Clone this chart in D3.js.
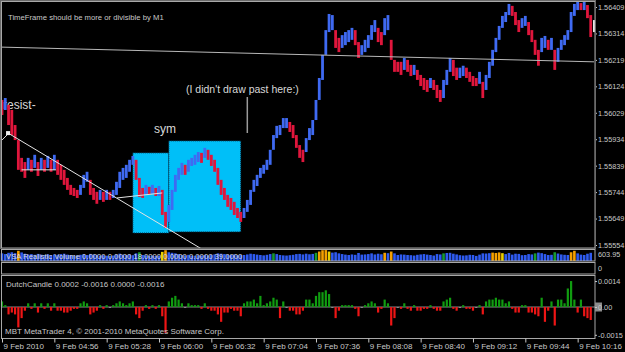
<!DOCTYPE html>
<html>
<head>
<meta charset="utf-8">
<script src="https://cdn.jsdelivr.net/npm/d3@7"></script>
<style>
body { margin: 0; background: #000; }
svg { display: block; }
</style>
</head>
<body>
<div id="chart"></div>
<script>
// M2 bars from 9 Feb 2010 04:24
const start = new Date(2010, 1, 9, 4, 24);
const barMinutes = 2;

const highs = [
  1.56075, 1.56082, 1.56057, 1.56039, 1.55985, 1.55931, 1.55867, 1.55852, 1.55867, 1.55860,
  1.55878, 1.55852, 1.55867, 1.55860, 1.55874, 1.55860, 1.55878, 1.55860, 1.55842, 1.55824,
  1.55795, 1.55770, 1.55759, 1.55752, 1.55770, 1.55806, 1.55817, 1.55788, 1.55759, 1.55745,
  1.55752, 1.55745, 1.55752, 1.55745, 1.55752, 1.55781, 1.55817, 1.55831, 1.55842, 1.55860,
  1.55874, 1.55860, 1.55795, 1.55759, 1.55770, 1.55763, 1.55770, 1.55759, 1.55766, 1.55752,
  1.55673, 1.55698, 1.55752, 1.55806, 1.55831, 1.55849, 1.55842, 1.55860, 1.55867, 1.55878,
  1.55888, 1.55885, 1.55903, 1.55896, 1.55878, 1.55860, 1.55831, 1.55788, 1.55759, 1.55734,
  1.55723, 1.55709, 1.55687, 1.55673, 1.55687, 1.55716, 1.55752, 1.55788, 1.55806, 1.55831,
  1.55842, 1.55860, 1.55896, 1.55949, 1.55982, 1.55985, 1.56010, 1.56010, 1.55996, 1.55985,
  1.55949, 1.55913, 1.55896, 1.55938, 1.55974, 1.56003, 1.56075, 1.56154, 1.56237, 1.56326,
  1.56384, 1.56380, 1.56326, 1.56298, 1.56308, 1.56319, 1.56326, 1.56334, 1.56326, 1.56283,
  1.56272, 1.56291, 1.56308, 1.56344, 1.56362, 1.56334, 1.56319, 1.56369, 1.56380, 1.56291,
  1.56219, 1.56212, 1.56212, 1.56226, 1.56219, 1.56201, 1.56201, 1.56183, 1.56165, 1.56154,
  1.56147, 1.56154, 1.56147, 1.56129, 1.56111, 1.56147, 1.56183, 1.56226, 1.56219, 1.56191,
  1.56191, 1.56198, 1.56191, 1.56176, 1.56161, 1.56154, 1.56176, 1.56140, 1.56165, 1.56212,
  1.56255, 1.56298, 1.56341, 1.56377, 1.56391, 1.56420, 1.56413, 1.56391, 1.56362, 1.56369,
  1.56377, 1.56355, 1.56326, 1.56291, 1.56255, 1.56298, 1.56305, 1.56291, 1.56298, 1.56255,
  1.56262, 1.56291, 1.56308, 1.56326, 1.56391, 1.56420, 1.56427, 1.56423, 1.56427, 1.56416,
  1.56380
];
const lows = [
  1.56021, 1.56039, 1.55985, 1.55949, 1.55931, 1.55824, 1.55817, 1.55795, 1.55824, 1.55817,
  1.55831, 1.55802, 1.55824, 1.55817, 1.55831, 1.55817, 1.55824, 1.55806, 1.55788, 1.55770,
  1.55752, 1.55734, 1.55730, 1.55723, 1.55734, 1.55759, 1.55781, 1.55734, 1.55716, 1.55702,
  1.55716, 1.55709, 1.55716, 1.55716, 1.55723, 1.55734, 1.55759, 1.55788, 1.55795, 1.55817,
  1.55842, 1.55788, 1.55727, 1.55723, 1.55734, 1.55734, 1.55738, 1.55730, 1.55730, 1.55662,
  1.55615, 1.55637, 1.55680, 1.55745, 1.55788, 1.55806, 1.55806, 1.55817, 1.55838, 1.55842,
  1.55852, 1.55849, 1.55867, 1.55860, 1.55838, 1.55817, 1.55770, 1.55734, 1.55716, 1.55691,
  1.55680, 1.55662, 1.55651, 1.55637, 1.55651, 1.55673, 1.55698, 1.55745, 1.55766, 1.55795,
  1.55810, 1.55824, 1.55842, 1.55896, 1.55938, 1.55949, 1.55974, 1.55974, 1.55960, 1.55938,
  1.55903, 1.55867, 1.55852, 1.55888, 1.55931, 1.55949, 1.56003, 1.56075, 1.56147, 1.56237,
  1.56319, 1.56326, 1.56262, 1.56247, 1.56262, 1.56272, 1.56283, 1.56291, 1.56272, 1.56226,
  1.56237, 1.56247, 1.56262, 1.56291, 1.56319, 1.56283, 1.56272, 1.56308, 1.56326, 1.56219,
  1.56176, 1.56176, 1.56165, 1.56183, 1.56176, 1.56161, 1.56165, 1.56147, 1.56125, 1.56111,
  1.56104, 1.56118, 1.56111, 1.56082, 1.56068, 1.56082, 1.56129, 1.56176, 1.56161, 1.56147,
  1.56154, 1.56161, 1.56154, 1.56140, 1.56125, 1.56125, 1.56133, 1.56082, 1.56111, 1.56154,
  1.56198, 1.56247, 1.56291, 1.56334, 1.56355, 1.56380, 1.56377, 1.56344, 1.56319, 1.56334,
  1.56341, 1.56308, 1.56283, 1.56237, 1.56198, 1.56247, 1.56262, 1.56255, 1.56255, 1.56183,
  1.56212, 1.56255, 1.56272, 1.56291, 1.56319, 1.56377, 1.56398, 1.56398, 1.56398, 1.56369,
  1.56301
];
const volumes = [
  420, 380, 450, 480, 430, 560, 470, 400, 360, 380,
  340, 390, 350, 330, 370, 320, 360, 340, 380, 400,
  350, 330, 300, 310, 340, 380, 330, 390, 360, 340,
  300, 320, 290, 280, 300, 360, 400, 350, 330, 360,
  320, 420, 480, 330, 310, 290, 300, 280, 300, 500,
  590, 480, 450, 420, 380, 330, 310, 340, 300, 290,
  320, 300, 330, 310, 350, 360, 420, 400, 380, 350,
  330, 360, 320, 340, 330, 360, 400, 380, 350, 330,
  310, 340, 380, 420, 380, 330, 310, 300, 320, 340,
  380, 390, 360, 400, 370, 390, 450, 520, 590, 600,
  520, 460, 480, 420, 380, 350, 330, 360, 340, 440,
  350, 360, 380, 420, 360, 400, 370, 450, 430, 520,
  420, 330, 360, 350, 330, 320, 300, 340, 360, 380,
  350, 330, 300, 380, 360, 420, 440, 450, 400, 360,
  320, 300, 310, 340, 330, 280, 350, 420, 410, 430,
  460, 440, 470, 430, 380, 440, 350, 400, 390, 320,
  330, 380, 360, 420, 460, 430, 380, 330, 340, 480,
  410, 360, 340, 330, 480, 560, 420, 350, 330, 400,
  450
];
// VSA bar class: b = normal, o = high, y = climax, g = no demand
const vsaClass = [
  "b","b","b","b","b","o","b","b","b","b",
  "b","b","b","b","b","b","b","b","b","b",
  "b","b","b","b","b","b","b","b","b","b",
  "b","b","b","b","b","b","b","b","b","b",
  "b","b","g","b","b","b","b","b","b","y",
  "o","b","b","b","b","b","b","b","b","b",
  "b","b","b","b","b","b","b","b","b","b",
  "b","b","b","b","b","b","b","b","b","b",
  "b","b","b","g","b","b","b","b","b","b",
  "b","b","b","b","b","b","g","o","o","o",
  "y","b","b","b","b","b","b","b","b","b",
  "b","b","b","b","b","b","b","o","b","o",
  "b","b","b","b","b","b","b","b","b","b",
  "b","b","b","b","b","g","b","b","b","b",
  "b","b","b","b","b","b","b","b","b","b",
  "o","o","o","y","b","b","b","b","b","b",
  "b","b","b","g","b","b","b","b","b","g",
  "b","b","b","b","o","o","b","b","b","b",
  "b"
];
const dutch = [
  0.0003, 0.0001, -0.0004, -0.0003, -0.0004, -0.0011, -0.0006, -0.0002, 0.0002, -0.0001,
  0.0002, -0.0003, 0.0002, -0.0001, 0.0002, -0.0002, 0.0002, -0.0002, -0.0002, -0.0003,
  -0.0003, -0.0002, -0.0001, -0.0001, 0.0002, 0.0003, 0.0002, -0.0004, -0.0003, -0.0002,
  0.0001, -0.0001, 0.0001, 0.0000, 0.0001, 0.0002, 0.0003, 0.0002, 0.0001, 0.0002,
  0.0003, -0.0004, -0.0006, -0.0002, 0.0001, -0.0001, 0.0001, -0.0001, 0.0001, -0.0005,
  -0.0014, 0.0003, 0.0005, 0.0006, 0.0004, 0.0002, 0.0000, 0.0002, 0.0001, 0.0001,
  0.0001, -0.0001, 0.0002, -0.0001, -0.0002, -0.0002, -0.0004, -0.0008, -0.0003, -0.0003,
  -0.0001, -0.0002, -0.0002, -0.0005, 0.0002, 0.0003, 0.0003, 0.0004, 0.0002, 0.0006,
  0.0001, 0.0002, 0.0003, 0.0005, 0.0004, -0.0006, 0.0003, 0.0000, -0.0002, -0.0002,
  -0.0004, -0.0004, -0.0002, 0.0004, 0.0004, 0.0002, 0.0006, 0.0008, 0.0008, 0.0009,
  0.0007, 0.0000, -0.0006, -0.0002, 0.0001, 0.0001, 0.0001, 0.0001, -0.0001, -0.0005,
  0.0000, 0.0001, 0.0002, 0.0003, 0.0002, -0.0003, -0.0001, 0.0004, 0.0002, -0.0010,
  -0.0006, 0.0000, -0.0001, 0.0002, -0.0001, -0.0002, 0.0001, -0.0002, -0.0002, -0.0001,
  -0.0001, 0.0001, -0.0001, -0.0002, -0.0002, 0.0003, 0.0004, 0.0005, -0.0001, -0.0002,
  0.0000, 0.0001, -0.0001, -0.0001, -0.0002, 0.0000, 0.0001, -0.0004, 0.0003, 0.0004,
  0.0004, 0.0005, 0.0004, 0.0004, 0.0002, 0.0003, -0.0001, -0.0003, -0.0003, 0.0001,
  0.0001, -0.0003, -0.0003, -0.0004, -0.0005, 0.0005, -0.0008, -0.0002, 0.0003, -0.0010,
  0.0004, 0.0004, 0.0002, 0.0010, 0.0014, 0.0004, -0.0003, 0.0004, -0.0005, -0.0006,
  -0.0007
];

const priceTicks = [1.56409, 1.56314, 1.56219, 1.56124, 1.56029, 1.55934, 1.55839, 1.55744, 1.55649, 1.55554];
const timeTicks = [0, 32, 64, 96, 128, 160, 192, 224, 256, 288, 320, 352]; // minutes after start
const timeLabels = ["9 Feb 2010", "9 Feb 04:56", "9 Feb 05:28", "9 Feb 06:00", "9 Feb 06:32", "9 Feb 07:04",
  "9 Feb 07:36", "9 Feb 08:08", "9 Feb 08:40", "9 Feb 09:12", "9 Feb 09:44", "9 Feb 10:16"];
const dutchTicks = [0.0014, 0, -0.0015];
const dutchLabels = ["0.0014", "0.00", "-0.0015"];
const volumeMax = 603.95;

// objects drawn on the chart: [minute, price]
const trendLines = [
  [[-1, 1.56265], [362, 1.56212]],
  [[3.7, 1.55956], [122, 1.55540]],
  [[0, 1.55931], [3.7, 1.55953]],
  [[12, 1.55824], [33, 1.55824]],
  [[70.3, 1.55723], [98, 1.55741]]
];
const markLine = [[150, 1.56086], [150, 1.55956]];
const boxes = [
  [80, 102, 1.55885, 1.55597],
  [102, 146, 1.55928, 1.55601]
];
const notes = [
  {t: 0.6, p: 1.56043, text: "resist-", size: 12},
  {t: 93, p: 1.55956, text: "sym", size: 12},
  {t: 112.5, p: 1.56100, text: "(I didn't draw past here:)", size: 10.5}
];

const width = 625, height = 352;
const left = 1.5, right = 595;
const main = {top: 1.5, bottom: 248};
const vol = {top: 249.5, bottom: 261};
const blank = {top: 262.5, bottom: 274};
const dc = {top: 275.5, bottom: 338.5};

const minute = (m) => new Date(start.getTime() + m * 60000);

const x = d3.scaleTime()
  .domain([minute(0), minute(362)])
  .range([2, 594]);

const y = d3.scaleLinear()
  .domain([1.55554, 1.56409])
  .range([245, 7]);

const yVol = d3.scaleLinear().domain([0, volumeMax]).range([vol.bottom, vol.top + 0.5]);
const yDc = d3.scaleLinear().domain([-0.0017, 0.0017]).range([dc.bottom, dc.top]);

const font = "'Liberation Sans', Arial, sans-serif";
const grey = "#c8c8c8";
const frame = "#a8a8a8";

const svg = d3.select("#chart").append("svg")
  .attr("width", width)
  .attr("height", height)
  .style("background", "#000");

svg.append("clipPath").attr("id", "clipMain")
  .append("rect").attr("x", left).attr("y", main.top).attr("width", right - left).attr("height", main.bottom - main.top);

const plot = svg.append("g").attr("clip-path", "url(#clipMain)");

// rectangles
plot.selectAll(".box").data(boxes).join("rect")
  .attr("x", d => x(minute(d[0])))
  .attr("y", d => y(d[2]))
  .attr("width", d => x(minute(d[1])) - x(minute(d[0])))
  .attr("height", d => y(d[3]) - y(d[2]))
  .attr("fill", "#00bff8")
  .attr("stroke", "#062c44")
  .attr("stroke-dasharray", "1,1");

// text notes
plot.selectAll(".note").data(notes).join("text")
  .attr("x", d => x(minute(d.t)))
  .attr("y", d => y(d.p))
  .attr("fill", "#d8d8d8")
  .style("font-family", font)
  .style("font-size", d => d.size + "px")
  .text(d => d.text);

// price bars
const mid = (i) => (highs[i] + lows[i]) / 2;
plot.selectAll(".bar").data(highs).join("rect")
  .attr("x", (d, i) => x(minute(i * barMinutes)) - 1.4)
  .attr("y", (d, i) => y(highs[i]))
  .attr("width", 2.8)
  .attr("height", (d, i) => Math.max(1, y(lows[i]) - y(highs[i])))
  .attr("fill", (d, i) => (i > 0 && mid(i) >= mid(i - 1)) ? "#3f6af2" : "#e0163c");

// trend lines
const line = d3.line(d => x(minute(d[0])), d => y(d[1]));
plot.selectAll(".tl").data(trendLines).join("path")
  .attr("d", line)
  .attr("fill", "none")
  .attr("stroke", (d, i) => i === 0 ? "#b8b8b8" : "#e4e4e4")
  .attr("stroke-width", 1);

plot.append("path")
  .attr("d", line(markLine))
  .attr("stroke", "#9a9a9a")
  .attr("stroke-width", 1.5);

plot.append("rect")
  .attr("x", x(minute(3.7)) - 2)
  .attr("y", y(1.55956) - 2)
  .attr("width", 4).attr("height", 4)
  .attr("fill", "#f0f0f0");

// current price marker
svg.append("rect")
  .attr("x", 593).attr("y", y(highs[highs.length - 1]) + 5)
  .attr("width", 3).attr("height", 12)
  .attr("fill", "#e8e8e8");

svg.append("text")
  .attr("x", 8).attr("y", 20)
  .attr("fill", grey)
  .style("font-family", font).style("font-size", "7.7px")
  .text("TimeFrame should be more or divisible by M1");

// volume panel
svg.selectAll(".vol").data(volumes).join("rect")
  .attr("x", (d, i) => x(minute(i * barMinutes)) - 1.3)
  .attr("y", d => yVol(d))
  .attr("width", 2.6)
  .attr("height", d => vol.bottom - yVol(d))
  .attr("fill", (d, i) => ({b: "#2f5bf0", o: "#f5a000", y: "#e8d000", g: "#169a30"})[vsaClass[i]]);

svg.append("text")
  .attr("x", 6).attr("y", 258.5)
  .attr("fill", "#d8d8d8")
  .style("font-family", font).style("font-size", "7.7px")
  .text("VSA Realistic Volume 0.0000 0.0000 18.0000 0.0000 0.0000 39.0000");

// dutch candle panel
svg.append("line")
  .attr("x1", left).attr("x2", right)
  .attr("y1", yDc(0)).attr("y2", yDc(0))
  .attr("stroke", "#8a8a8a");

svg.selectAll(".dc").data(dutch).join("rect")
  .attr("x", (d, i) => x(minute(i * barMinutes)) - 1.1)
  .attr("y", d => Math.min(yDc(d), yDc(0)))
  .attr("width", 2.2)
  .attr("height", d => Math.max(1, Math.abs(yDc(d) - yDc(0))))
  .attr("fill", d => d > 0 ? "#109c10" : d < 0 ? "#ee1515" : "#8a8a8a");

svg.append("text")
  .attr("x", 6).attr("y", 287)
  .attr("fill", grey)
  .style("font-family", font).style("font-size", "8px")
  .text("DutchCandle 0.0002 -0.0016 0.0000 -0.0016");

svg.append("text")
  .attr("x", 5).attr("y", 334)
  .attr("fill", grey)
  .style("font-family", font).style("font-size", "8px")
  .text("MBT MetaTrader 4, \u00A9 2001-2010 MetaQuotes Software Corp.");

// panel frames
[main, vol, blank, dc].forEach(p => {
  svg.append("rect")
    .attr("x", left).attr("y", p.top)
    .attr("width", right - left).attr("height", p.bottom - p.top)
    .attr("fill", "none")
    .attr("stroke", frame);
});

// axes
function styleAxis(g, size) {
  g.select(".domain").remove();
  g.selectAll("line").attr("stroke", grey);
  g.selectAll("text").attr("fill", grey)
    .style("font-family", font).style("font-size", (size || 8) + "px");
}

svg.append("g")
  .attr("transform", `translate(${right},0)`)
  .call(d3.axisRight(y).tickValues(priceTicks).tickFormat(d3.format(".5f")).tickSize(2).tickPadding(1))
  .call(styleAxis, 7.3);

svg.append("rect")
  .attr("x", right).attr("y", yDc(0) - 4.5)
  .attr("width", 7).attr("height", 9)
  .attr("fill", "#8c8c8c");

svg.append("g")
  .attr("transform", `translate(${right},0)`)
  .call(d3.axisRight(yDc).tickValues(dutchTicks).tickFormat((d, i) => dutchLabels[i]).tickSize(2).tickPadding(1))
  .call(styleAxis, 7.3);

svg.append("g")
  .attr("transform", `translate(${right},0)`)
  .call(d3.axisRight(yVol).tickValues([volumeMax]).tickFormat(d3.format(".2f")).tickSize(0).tickPadding(3))
  .call(styleAxis, 7.3)
  .selectAll("text").attr("dy", "0.9em");

svg.append("text")
  .attr("x", right + 3).attr("y", (blank.top + blank.bottom) / 2 + 3)
  .attr("fill", grey)
  .style("font-family", font).style("font-size", "7.3px")
  .text("0");

svg.append("g")
  .attr("transform", `translate(0,${dc.bottom})`)
  .call(d3.axisBottom(x).tickValues(timeTicks.map(minute)).tickFormat((d, i) => timeLabels[i]).tickSize(4).tickPadding(1))
  .call(styleAxis, 8)
  .selectAll("text").attr("text-anchor", "start").attr("dx", 1);

// outer window frame
svg.append("rect")
  .attr("x", 0.5).attr("y", 0.5)
  .attr("width", right).attr("height", main.bottom)
  .attr("fill", "none")
  .attr("stroke", "#6a6a6a");
</script>
</body>
</html>
